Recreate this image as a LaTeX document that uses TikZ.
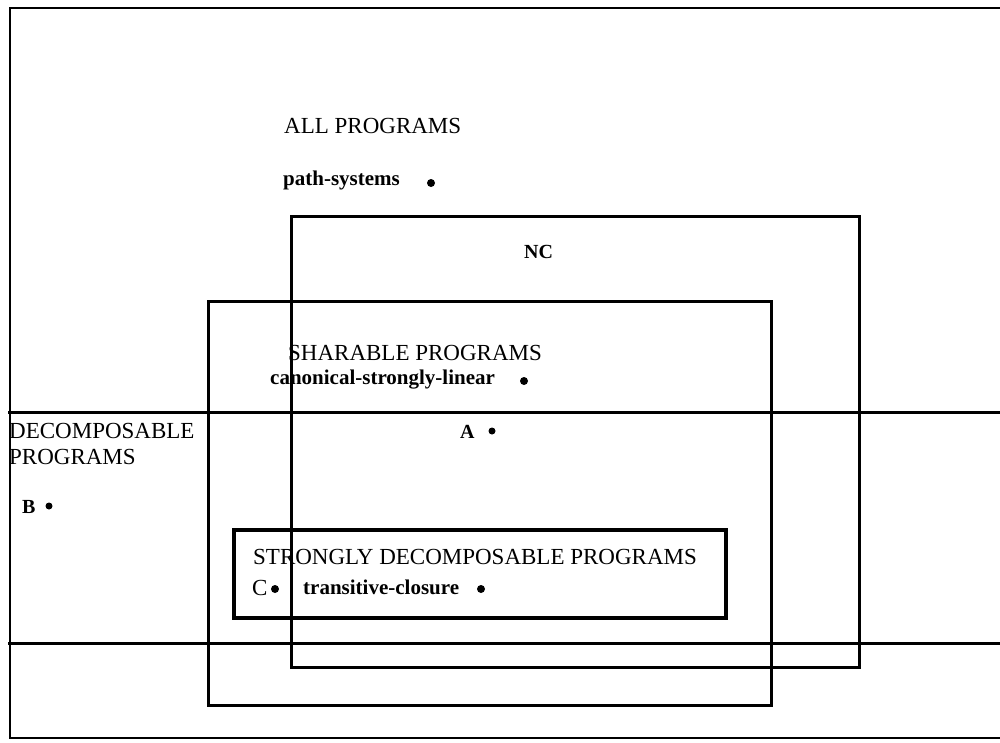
\documentclass[tikz,border=0pt]{standalone}
\usepackage{fontspec}
\setmainfont{Liberation Serif}
\begin{document}
\begin{tikzpicture}[x=1pt,y=-1pt,
  frame/.style={line width=2pt},
  setbox/.style={line width=3pt},
  strongbox/.style={line width=4pt},
  big/.style={anchor=west,inner sep=0pt,font=\fontsize{23}{25}\selectfont},
  letter/.style={anchor=west,inner sep=0pt,font=\fontsize{20}{22}\selectfont\bfseries},
  small/.style={anchor=west,inner sep=0pt,font=\fontsize{21}{23}\selectfont\bfseries},
  dot/.style={circle,fill=black,inner sep=0pt,minimum size=8pt}]
\useasboundingbox (0,0) rectangle (1000,742);
% outer frame (all programs)
\draw[frame] (1000,8) -- (10,8) -- (10,738) -- (1000,738);
% NC
\draw[setbox] (291,216) rectangle (859,667);
% sharable
\draw[setbox] (208,301) rectangle (771,705);
% decomposable band
\draw[setbox] (8,412) -- (1000,412);
\draw[setbox] (8,643) -- (1000,643);
% strongly decomposable
\draw[strongbox] (234,530) rectangle (726,618);
% labels
\node[big] (allp) at (284,126) {ALL PROGRAMS};
\node[small] (paths) at (283,180) {path-systems};
\node[dot] (dps) at (431,183) {};
\node[letter] (nc) at (524,252) {NC};
\node[big] (shar) at (288,353) {SHARABLE PROGRAMS};
\node[small] (csl) at (270,380) {canonical-strongly-linear};
\node[dot] (dcsl) at (524,381) {};
\node[letter] (a) at (460,432) {A};
\node[dot,minimum size=7pt] (da) at (492,431) {};
\node[big] (dec1) at (9,431) {DECOMPOSABLE};
\node[big] (dec2) at (9,457) {PROGRAMS};
\node[letter] (b) at (22,507) {B};
\node[dot,minimum size=7pt] (db) at (49,506) {};
\node[big] (sdp) at (253,557) {STRONGLY DECOMPOSABLE PROGRAMS};
\node[big] (c) at (252,588) {C};
\node[dot] (dc) at (275,589) {};
\node[small] (tc) at (303,587) {transitive-closure};
\node[dot] (dtc) at (481,589) {};
\end{tikzpicture}
\end{document}
